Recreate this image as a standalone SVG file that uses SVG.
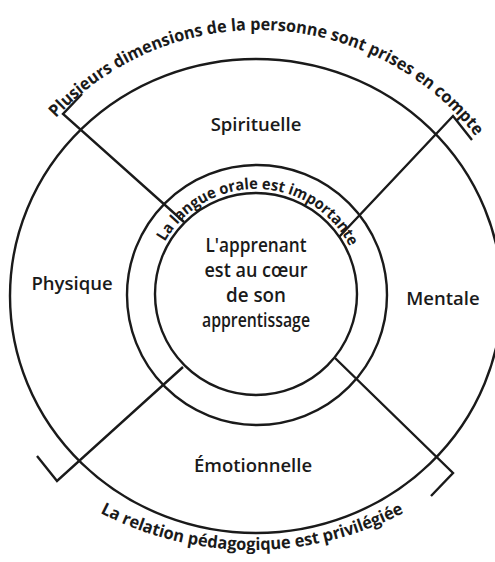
<svg xmlns="http://www.w3.org/2000/svg" width="495" height="562" viewBox="0 0 495 562">
<style>
.ln{fill:none;stroke:#1a1a1a;stroke-width:2.4;stroke-linecap:butt;stroke-linejoin:miter}
.t{font-family:"Open Sans","DejaVu Sans",sans-serif;font-weight:600;fill:#1a1a1a}
.lab{font-size:18.5px;text-anchor:middle}
.ctr{font-size:19px;text-anchor:middle}
.arc{font-size:17px;font-weight:700}
</style>
<defs>
<path id="topArc" d="M31.9,147.7 A276,276 0 0 1 497,168"/>
<path id="ringArc" d="M157.3,258.1 A105,105 0 0 1 356.4,263.3"/>
<path id="botArc" d="M63.9,490.7 A328,328 0 0 0 440.1,490.7"/>
</defs>
<rect width="495" height="562" fill="#ffffff"/>
<g id="outer-ring">
<ellipse class="ln" cx="256" cy="296" rx="246" ry="237"/>
</g>
<g id="middle-ring">
<circle class="ln" cx="257" cy="295" r="130"/>
</g>
<g id="inner-core">
<circle class="ln" cx="256" cy="294" r="101"/>
<text class="t ctr" x="256" y="252" textLength="101" lengthAdjust="spacingAndGlyphs">L'apprenant</text>
<text class="t ctr" x="256" y="277" textLength="103" lengthAdjust="spacingAndGlyphs">est au cœur</text>
<text class="t ctr" x="256" y="302" textLength="60" lengthAdjust="spacingAndGlyphs">de son</text>
<text class="t ctr" x="256" y="327" textLength="108" lengthAdjust="spacingAndGlyphs">apprentissage</text>
</g>
<g id="dim-spirituelle"><text class="t lab" x="256" y="131">Spirituelle</text></g>
<g id="dim-physique"><text class="t lab" x="72" y="290">Physique</text></g>
<g id="dim-mentale"><text class="t lab" x="443" y="305">Mentale</text></g>
<g id="dim-emotionnelle"><text class="t lab" x="253" y="472">Émotionnelle</text></g>
<g id="label-top"><text class="t arc" text-anchor="middle"><textPath href="#topArc" startOffset="50%" textLength="477" lengthAdjust="spacingAndGlyphs">Plusieurs dimensions de la personne sont prises en compte</textPath></text></g>
<g id="label-ring"><text class="t arc" text-anchor="middle" style="font-size:15.5px"><textPath href="#ringArc" startOffset="50%" textLength="226" lengthAdjust="spacingAndGlyphs">La langue orale est importante</textPath></text></g>
<g id="label-bottom"><text class="t arc" text-anchor="middle"><textPath href="#botArc" startOffset="50%" textLength="316" lengthAdjust="spacingAndGlyphs">La relation pédagogique est privilégiée</textPath></text></g>
<g id="connectors">
<polyline class="ln" points="82,94 63,114 184,222"/>
<polyline class="ln" points="472,140 453,116 339,237"/>
<polyline class="ln" points="37,456 57,481 183,367"/>
<polyline class="ln" points="431,496 453,473 335,358"/>
</g>
</svg>
